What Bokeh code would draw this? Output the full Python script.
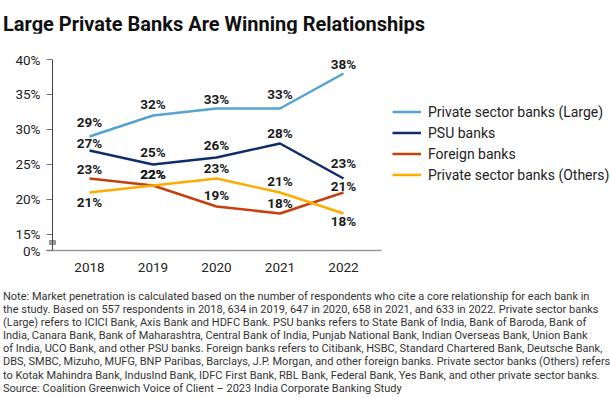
from bokeh.plotting import figure
from bokeh.models import ColumnDataSource, Legend, LegendItem, FixedTicker, Range1d, Span, Div
from bokeh.layouts import column
from bokeh.core.properties import value
from bokeh.embed import file_html
from bokeh.resources import INLINE

years = [2018, 2019, 2020, 2021, 2022]
series_names = ["Private sector banks (Large)", "PSU banks", "Foreign banks", "Private sector banks (Others)"]
large = [29, 32, 33, 33, 38]
psu = [27, 25, 26, 28, 23]
foreign = [23, 22, 19, 18, 21]
others = [21, 22, 23, 21, 18]
y_ticks = [15, 20, 25, 30, 35, 40]
title_text = "Large Private Banks Are Winning Relationships"
note_lines = [
    "Note: Market penetration is calculated based on the number of respondents who cite a core relationship for each bank in",
    "the study. Based on 557 respondents in 2018, 634 in 2019, 647 in 2020, 658 in 2021, and 633 in 2022. Private sector banks",
    "(Large) refers to ICICI Bank, Axis Bank and HDFC Bank. PSU banks refers to State Bank of India, Bank of Baroda, Bank of",
    "India, Canara Bank, Bank of Maharashtra, Central Bank of India, Punjab National Bank, Indian Overseas Bank, Union Bank",
    "of India, UCO Bank, and other PSU banks. Foreign banks refers to Citibank, HSBC, Standard Chartered Bank, Deutsche Bank,",
    "DBS, SMBC, Mizuho, MUFG, BNP Paribas, Barclays, J.P. Morgan, and other foreign banks. Private sector banks (Others) refers",
    "to Kotak Mahindra Bank, IndusInd Bank, IDFC First Bank, RBL Bank, Federal Bank, Yes Bank, and other private sector banks.",
    "Source: Coalition Greenwich Voice of Client \u2013 2023 India Corporate Banking Study",
]

# styles
colors = ["#55a3d3", "#0f2d6b", "#c4410f", "#ffab00"]
label_offsets = [
    [-14, -11, -9, -14, -9],
    [-7, -12, -12, -10, -15],
    [-9, -11, -11, -10, -6],
    [10, -11, -10, -11, 8],
]
FONT = "Roboto"
X_START, X_END = 2017.323, 2022.598
AXIS_X = 2017.4175
Y_BOTTOM, Y_TOP = 12.714, 40
BREAK_Y = 13.857

title_div = Div(text=title_text, width=610, height=21, margin=(12, 0, 0, 3),
                styles={"font-family": FONT, "font-size": "20px", "font-weight": "bold",
                        "line-height": "24px", "color": "#111111", "white-space": "nowrap"})

p = figure(frame_width=335, frame_height=191, output_backend="svg", toolbar_location=None,
           x_range=Range1d(X_START, X_END), y_range=Range1d(Y_BOTTOM, Y_TOP),
           min_border_left=46, min_border_right=229, min_border_top=26, min_border_bottom=40,
           margin=(0, 0, 0, 0))
p.outline_line_color = None
p.xgrid.visible = False
p.ygrid.visible = False

p.xaxis.ticker = FixedTicker(ticks=years)
p.xaxis.major_tick_line_color = None
p.xaxis.minor_tick_line_color = None
p.xaxis.axis_line_color = "#9a9a9a"
p.xaxis.axis_line_width = 1.5
p.xaxis.major_label_text_font = FONT
p.xaxis.major_label_text_font_size = "13.5px"
p.xaxis.major_label_text_color = "#222222"
p.xaxis.major_label_standoff = 6

p.yaxis.ticker = FixedTicker(ticks=[Y_BOTTOM] + y_ticks)
p.yaxis.major_label_overrides = {Y_BOTTOM: "0%", **{t: f"{t}%" for t in y_ticks}}
p.yaxis.minor_tick_line_color = None
p.yaxis.major_tick_out = 0
p.yaxis.major_tick_in = 6
p.yaxis.major_tick_line_color = "#777777"
p.yaxis.axis_line_color = None
p.yaxis.major_label_text_font = FONT
p.yaxis.major_label_text_font_size = "13.5px"
p.yaxis.major_label_text_color = "#222222"
p.yaxis.major_label_standoff = 6

p.add_layout(Span(location=AXIS_X, dimension="height", line_color="#444444", line_width=1))
p.rect(x=[AXIS_X], y=[BREAK_Y], width=6, height=4, width_units="screen", height_units="screen",
       fill_color="#a0a0a0", line_color="#909090")

items = []
all_vals = [large, psu, foreign, others]
for name, vals, col, offs in zip(series_names, all_vals, colors, label_offsets):
    src = ColumnDataSource(dict(x=years, y=vals, t=[f"{v}%" for v in vals], off=offs))
    r = p.line("x", "y", source=src, line_color=col, line_width=2.5)
    items.append(LegendItem(label=name, renderers=[r]))
    p.text("x", "y", text="t", source=src, y_offset="off", text_align="center",
           text_baseline="middle", text_font=value(FONT), text_font_style="bold",
           text_font_size="13.5px", text_color="#1a1a1a")

legend = Legend(items=items, location=(11, 67), glyph_width=29, glyph_height=17,
                label_standoff=7, spacing=4, padding=0, margin=0,
                label_text_font=FONT, label_text_font_size="14px", label_text_color="#222222",
                label_height=17, border_line_color=None, background_fill_alpha=0)
p.add_layout(legend, "right")

note_div = Div(text="<br>".join(note_lines), width=607, height=104, margin=(0, 0, 0, 3),
               styles={"font-family": FONT, "font-size": "11px", "line-height": "13.1px",
                       "color": "#333333", "white-space": "nowrap"})

layout = column(title_div, p, note_div, spacing=0)
open("out.html", "w").write(file_html(layout, INLINE))
